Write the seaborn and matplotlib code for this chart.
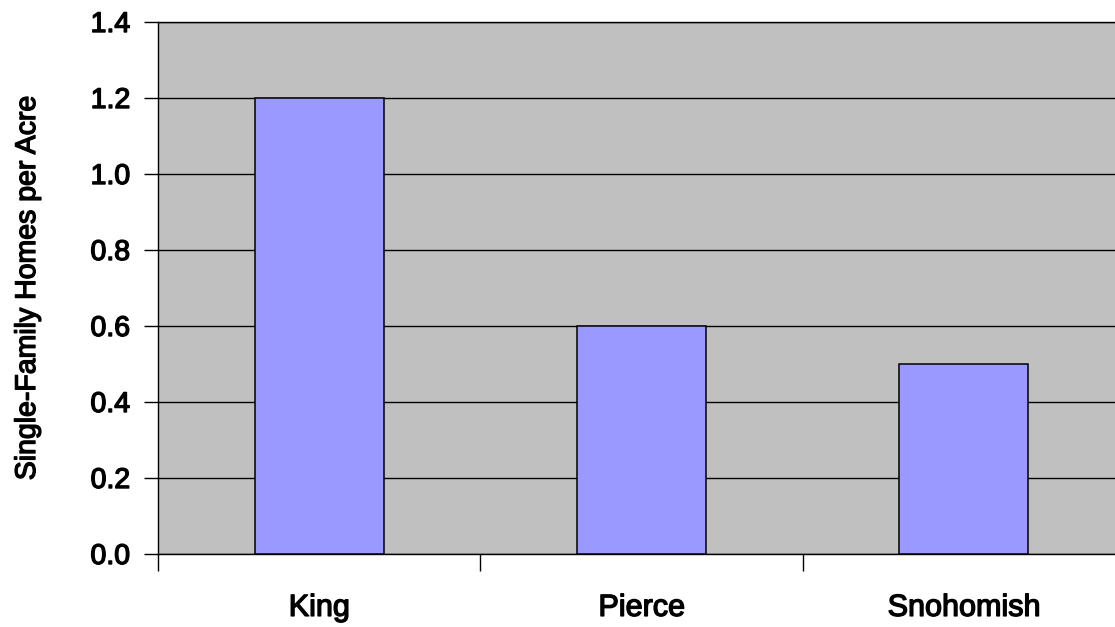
import matplotlib
matplotlib.use("Agg")
import matplotlib.pyplot as plt
import matplotlib.patheffects as pe
import seaborn as sns
import pandas as pd

counties = ["King", "Pierce", "Snohomish"]
homes_per_acre = [1.2, 0.6, 0.5]
y_ticks = [0.0, 0.2, 0.4, 0.6, 0.8, 1.0, 1.2, 1.4]

df = pd.DataFrame({"county": counties, "density": homes_per_acre})

sns.set_style("white")
plt.rcParams["font.family"] = ["Liberation Sans", "DejaVu Sans"]
plt.rcParams["text.color"] = "black"
plt.rcParams["axes.labelcolor"] = "black"
plt.rcParams["xtick.color"] = "black"
plt.rcParams["ytick.color"] = "black"

# heavier strokes for all labels
heavy = [pe.withStroke(linewidth=1.0, foreground="black")]

fig = plt.figure(figsize=(11.15, 6.27), dpi=100)
ax = fig.add_axes([158 / 1115, 73 / 627, 967 / 1115, 532 / 627])
ax.set_facecolor("#C0C0C0")

sns.barplot(data=df, x="county", y="density", color="#9999FF", width=0.4,
            edgecolor="black", linewidth=1.1, saturation=1, ax=ax, zorder=3)

ax.set_ylim(0, 1.4)
ax.set_xlim(-0.5, 2.5)
ax.set_yticks(y_ticks)
ax.set_yticklabels([f"{v:.1f}" for v in y_ticks], fontsize=20.5)
ax.yaxis.grid(True, color="black", linewidth=1.0, zorder=1)
ax.set_axisbelow(True)

# category labels centred, tick marks at the category boundaries
ax.set_xticks(range(len(counties)))
ax.set_xticklabels(counties, fontsize=22)
ax.set_xticks([-0.5, 0.5, 1.5, 2.5], minor=True)
ax.tick_params(axis="x", which="major", bottom=True, length=0, pad=28)
ax.tick_params(axis="x", which="minor", bottom=True, length=12, width=1,
               color="black", direction="out")
ax.tick_params(axis="y", which="major", left=True, length=10, width=1,
               color="black", direction="out", pad=10)

for lbl in ax.get_xticklabels() + ax.get_yticklabels():
    lbl.set_path_effects(heavy)
    lbl.set_color("black")

for side in ["left", "bottom", "top", "right"]:
    ax.spines[side].set_color("black")
    ax.spines[side].set_linewidth(1.0)

ax.set_xlabel("")
ax.set_ylabel("Single-Family Homes per Acre", fontsize=20.5, va="center",
              path_effects=heavy)
ax.yaxis.set_label_coords(-130 / 967, 0.5)

fig.savefig("out.png", dpi=100)
